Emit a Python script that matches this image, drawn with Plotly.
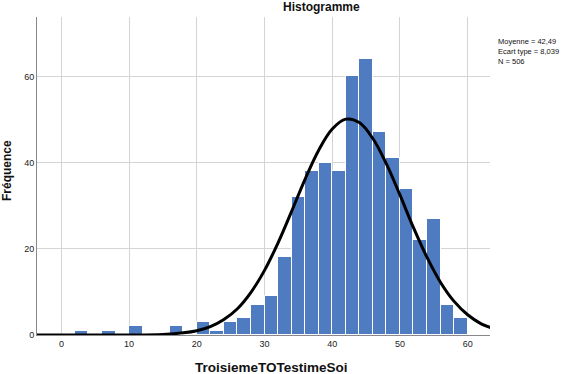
import plotly.graph_objects as go

# Histogram bins (left edges, width 2) and frequencies
bin_left = [2, 6, 10, 16, 20, 22, 24, 26, 28, 30, 32, 34, 36, 38, 40, 42, 44, 46, 48, 50, 52, 54, 56, 58]
freq = [1, 1, 2, 2, 3, 1, 3, 4, 7, 9, 18, 32, 38, 40, 38, 60, 64, 47, 41, 34, 22, 27, 7, 4]
bin_width = 2

# Normal curve
curve_x = [-4, 0, 5, 10, 15, 18, 20, 22, 24, 26, 28, 30, 32, 34, 36, 38, 40, 42, 44, 46, 48, 50, 52, 54, 56, 58, 60, 62, 63.6]
curve_y = [0, 0, 0, 0.01, 0.14, 0.5, 1.0, 1.95, 3.6, 6.1, 9.9, 15.0, 21.4, 28.7, 36.2, 42.9, 47.8, 50.1, 49.3, 45.6, 39.7, 32.5, 24.9, 18.0, 12.2, 7.8, 4.7, 2.6, 1.6]

x_ticks = [0, 10, 20, 30, 40, 50, 60]
y_ticks = [0, 20, 40, 60]

stats_lines = ["Moyenne = 42,49", "Ecart type = 8,039", "N = 506"]

W, H = 567, 374
L, R, T, B = 37, 490, 17, 335

centers = [b + bin_width / 2 for b in bin_left]

fig = go.Figure()
fig.add_trace(go.Bar(
    x=centers, y=freq, width=bin_width,
    marker=dict(color="#4f7cc1", line=dict(color="#ffffff", width=1)),
    showlegend=False, hoverinfo="x+y",
))
fig.add_trace(go.Scatter(
    x=curve_x, y=curve_y, mode="lines",
    line=dict(color="#000000", width=3, shape="spline"),
    showlegend=False,
))

font_family = "Liberation Sans, Arial, sans-serif"


def px_x(x):
    return (x - L) / (R - L)


def px_y(y):
    return (B - y) / (B - T)


annotations = [
    dict(text="<b>Histogramme</b>", x=px_x(321), y=px_y(7.5), xanchor="center", yanchor="middle",
         font=dict(size=12, color="#111111")),
    dict(text="<b>TroisiemeTOTestimeSoi</b>", x=px_x(271), y=px_y(367), xanchor="center", yanchor="middle",
         font=dict(size=13.5, color="#111111")),
    dict(text="<b>Fréquence</b>", x=px_x(7), y=px_y(170), xanchor="center", yanchor="middle",
         textangle=-90, font=dict(size=12, color="#111111")),
    dict(text="<br>".join(stats_lines), x=px_x(496), y=px_y(35), xanchor="left", yanchor="top",
         align="left", font=dict(size=7.5, color="#111111")),
]
for a in annotations:
    a.update(xref="paper", yref="paper", showarrow=False)

fig.update_layout(
    width=W, height=H,
    margin=dict(l=L, r=W - R, t=T, b=H - B, autoexpand=False),
    paper_bgcolor="white", plot_bgcolor="white",
    font=dict(family=font_family, color="#222222", size=9),
    bargap=0,
    xaxis=dict(
        range=[-3.6, 63.3], tickvals=x_ticks, ticktext=[str(v) for v in x_ticks],
        showgrid=True, gridcolor="#d4d4d4", gridwidth=1,
        showline=True, linecolor="#888888", linewidth=1,
        zeroline=False, ticks="", ticklen=0, automargin=False,
        tickfont=dict(size=9, color="#222222"),
    ),
    yaxis=dict(
        range=[0, 73.8], tickvals=y_ticks, ticktext=[str(v) for v in y_ticks],
        showgrid=True, gridcolor="#d4d4d4", gridwidth=1,
        showline=True, linecolor="#888888", linewidth=1,
        zeroline=False, ticks="", ticklen=0, automargin=False,
        tickfont=dict(size=9, color="#222222"),
    ),
    annotations=annotations,
)

fig.write_html("out.html", config={"displayModeBar": False},
               post_script="document.body.style.margin='0px';document.body.style.overflow='hidden';")
